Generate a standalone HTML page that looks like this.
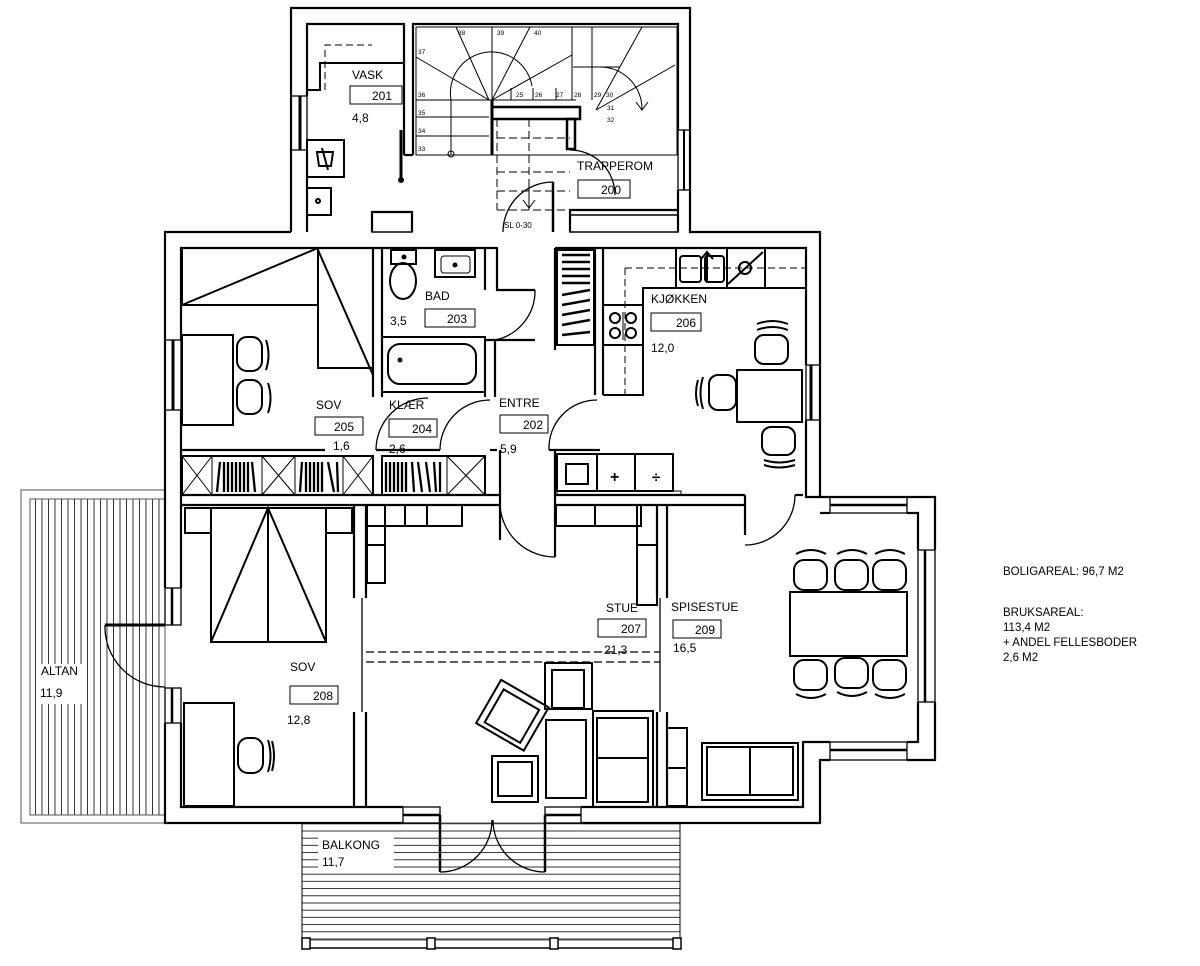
<!DOCTYPE html>
<html><head><meta charset="utf-8"><style>
html,body{margin:0;padding:0;background:#fff;}
svg{display:block;}
text{font-family:"Liberation Sans",sans-serif;fill:#000;}
</style></head><body>
<svg width="1200" height="966" viewBox="0 0 1200 966" xmlns="http://www.w3.org/2000/svg">
<defs>
<pattern id="vl" width="6.5" height="10" patternUnits="userSpaceOnUse"><line x1="3" y1="0" x2="3" y2="10" stroke="#000" stroke-width="0.8"/></pattern>
<pattern id="hl" width="10" height="7.2" patternUnits="userSpaceOnUse"><line x1="0" y1="3" x2="10" y2="3" stroke="#000" stroke-width="0.8"/></pattern>
</defs>
<rect width="1200" height="966" fill="#fff"/>

<!-- ALTAN -->
<rect x="21" y="490" width="144" height="333" fill="none" stroke="#555" stroke-width="1"/>
<rect x="30" y="499" width="135" height="316" fill="url(#vl)" stroke="#555" stroke-width="1"/>
<rect x="36" y="664" width="50" height="40" fill="#fff"/>
<text x="41" y="675" font-size="12">ALTAN</text>
<text x="40" y="697" font-size="12">11,9</text>

<!-- BALKONG -->
<rect x="302" y="823" width="378" height="117" fill="url(#hl)" stroke="#555" stroke-width="1"/>
<line x1="302" y1="948" x2="680" y2="948" stroke="#000" stroke-width="1.5"/>
<line x1="302" y1="823" x2="302" y2="948" stroke="#000"/><line x1="680" y1="823" x2="680" y2="948" stroke="#000"/>
<g fill="#fff" stroke="#000" stroke-width="1.5">
<rect x="302" y="938" width="8" height="11"/><rect x="427" y="938" width="8" height="11"/><rect x="550" y="938" width="8" height="11"/><rect x="673" y="938" width="8" height="11"/>
</g>
<rect x="318" y="836" width="76" height="34" fill="#fff"/>
<text x="322" y="849" font-size="12">BALKONG</text>
<text x="322" y="866" font-size="12">11,7</text>

<g fill="none" stroke="#000" stroke-width="2.2">
<polyline points="291,232 291,8 690,8 690,232 820,232 820,497 907,497"/>
<polyline points="907,497 935,497 935,550"/>
<polyline points="935,702 935,760 907,760"/>
<polyline points="830,760 820,760 820,823 581,823"/>
<polyline points="403,823 165,823 165,723"/>
<polyline points="165,588 165,232 291,232"/>
<polyline points="307,232 307,150"/>
<polyline points="307,96 307,24 404,24 404,155"/>
<polyline points="413,155 413,24 678,24 678,130"/>
<polyline points="678,190 678,232"/>
<polyline points="181,340 181,248 497,248 497,290 535,290"/>
<polyline points="555,248 806,248 806,365"/>
<polyline points="806,420 806,497 820,497"/>
<polyline points="820,513 830,513"/><polyline points="907,513 918,513 918,550"/>
<polyline points="918,702 918,742 907,742"/><polyline points="830,742 803,742 803,807 581,807"/>
<polyline points="403,807 181,807 181,723"/>
<polyline points="181,588 181,410"/>
<line x1="373" y1="248" x2="373" y2="397"/><line x1="382" y1="248" x2="382" y2="397"/>
<line x1="485" y1="248" x2="485" y2="290"/><line x1="485" y1="340" x2="485" y2="397"/>
<line x1="495" y1="340" x2="495" y2="397"/>
<line x1="485" y1="340" x2="535" y2="340"/>
<line x1="555" y1="248" x2="555" y2="350"/>
<line x1="595" y1="248" x2="595" y2="395"/><line x1="603" y1="248" x2="603" y2="395"/>
<line x1="181" y1="450" x2="325" y2="450"/>
<line x1="376" y1="450" x2="440" y2="450"/>
<line x1="490" y1="450" x2="497" y2="450"/>
<line x1="549" y1="450" x2="600" y2="450"/>
<line x1="181" y1="495" x2="500" y2="495"/><line x1="181" y1="505" x2="500" y2="505"/>
<line x1="500" y1="450" x2="500" y2="505"/>
<line x1="555" y1="450" x2="555" y2="505"/>
<line x1="555" y1="495" x2="665" y2="495"/><line x1="555" y1="505" x2="665" y2="505"/>
<line x1="665" y1="495" x2="745" y2="495"/><line x1="665" y1="505" x2="745" y2="505"/>
<line x1="745" y1="495" x2="745" y2="535"/>
<line x1="795" y1="495" x2="803" y2="495"/>
<line x1="354" y1="505" x2="354" y2="598"/><line x1="366" y1="505" x2="366" y2="598"/>
<line x1="354" y1="712" x2="354" y2="807"/><line x1="366" y1="712" x2="366" y2="807"/>
<line x1="657" y1="505" x2="657" y2="598"/><line x1="667" y1="505" x2="667" y2="598"/>
<line x1="657" y1="712" x2="657" y2="807"/><line x1="667" y1="712" x2="667" y2="807"/>
<line x1="555" y1="505" x2="555" y2="557"/><line x1="500" y1="505" x2="500" y2="540"/>
<polyline points="372,232 372,212 412,212 412,232"/>
<polyline points="570,232 570,210 678,210"/>
<line x1="413" y1="155" x2="404" y2="155"/>
</g>
<g stroke="#000" stroke-width="1.3" fill="none">
<line x1="362" y1="598" x2="362" y2="712"/>
<line x1="660" y1="598" x2="660" y2="712"/>
<line x1="366" y1="652" x2="660" y2="652" stroke-dasharray="8,4"/>
<line x1="366" y1="662" x2="660" y2="662" stroke-dasharray="8,4"/>
<rect x="165" y="340" width="16" height="70"/><line x1="173" y1="340" x2="173" y2="410" stroke-width="3"/>
<rect x="165" y="588" width="16" height="37"/><rect x="165" y="688" width="16" height="35"/>
<line x1="172" y1="588" x2="172" y2="625" stroke-width="2.5"/><line x1="172" y1="688" x2="172" y2="723" stroke-width="2.5"/>
<line x1="105" y1="625" x2="165" y2="625" stroke-width="3"/>
<path d="M105,625 A60,60 0 0 0 165,687"/>
<rect x="291" y="96" width="16" height="54"/><line x1="300" y1="96" x2="300" y2="150" stroke-width="3"/>
<rect x="678" y="130" width="12" height="60"/><line x1="684" y1="130" x2="684" y2="190" stroke-width="2"/>
<rect x="806" y="365" width="14" height="55"/><line x1="811" y1="365" x2="811" y2="420" stroke-width="3"/>
<rect x="830" y="497" width="77" height="16"/><line x1="830" y1="505" x2="907" y2="505" stroke-width="2.5"/>
<rect x="918" y="550" width="17" height="152"/><line x1="925" y1="550" x2="925" y2="702" stroke-width="2.5"/>
<rect x="830" y="742" width="77" height="18"/><line x1="830" y1="750" x2="907" y2="750" stroke-width="2.5"/>
<rect x="403" y="807" width="37" height="16"/><rect x="545" y="807" width="36" height="16"/>
<line x1="403" y1="815" x2="440" y2="815" stroke-width="2.5"/><line x1="545" y1="815" x2="581" y2="815" stroke-width="2.5"/>
<line x1="440" y1="815" x2="440" y2="872" stroke-width="2.5"/><line x1="545" y1="815" x2="545" y2="872" stroke-width="2.5"/>
<path d="M440,872 A52,52 0 0 0 492,820"/><path d="M545,872 A52,52 0 0 1 493,820"/>
<path d="M500,505 A55,55 0 0 0 555,557"/>
<path d="M795,495 A50,50 0 0 1 745,545"/>
<path d="M535,290 A50,50 0 0 1 495,340"/>
<path d="M376,450 A52,52 0 0 1 428,398"/>
<path d="M440,450 A50,50 0 0 1 490,400"/>
<path d="M549,450 A48,48 0 0 1 597,400"/>
<path d="M503,232 A50,50 0 0 1 553,182"/>
<line x1="553" y1="182" x2="553" y2="232" stroke-width="2.5"/>
<path d="M570,150 A45,45 0 0 1 615,195"/>
</g>
<g stroke="#000" stroke-width="1" fill="none">
<rect x="416" y="27" width="261" height="128"/>
<line x1="572" y1="27" x2="572" y2="100"/>
<line x1="416" y1="100" x2="489" y2="100"/><line x1="416" y1="117" x2="489" y2="117"/><line x1="416" y1="136" x2="489" y2="136"/>
<line x1="489" y1="100" x2="576" y2="100"/>
<line x1="492" y1="27" x2="492" y2="100"/>
<line x1="456" y1="27" x2="489" y2="100"/><line x1="530" y1="27" x2="492" y2="100"/>
<line x1="416" y1="57" x2="489" y2="100"/><line x1="572" y1="55" x2="492" y2="100"/>
<line x1="642" y1="27" x2="596" y2="110"/><line x1="675" y1="65" x2="596" y2="110"/>
<line x1="592" y1="27" x2="592" y2="100"/>
<line x1="511" y1="88" x2="511" y2="100"/><line x1="533" y1="88" x2="533" y2="100"/><line x1="556" y1="88" x2="556" y2="100"/>
<line x1="573" y1="67" x2="620" y2="67"/>
<path d="M451,155 L451,100 A40,40 0 0 1 532,86"/>
<path d="M598,67 A42,42 0 0 1 642,110"/>
<circle cx="451" cy="154" r="3"/>
<line x1="492" y1="100" x2="492" y2="155" stroke-width="3"/>
<rect x="492" y="107" width="88" height="12" stroke-width="2.5"/>
<rect x="567" y="119" width="8" height="30" stroke-width="2.5"/>
<g stroke-dasharray="8,4"><line x1="497" y1="138" x2="570" y2="138"/><line x1="497" y1="172" x2="570" y2="172"/><line x1="497" y1="191" x2="570" y2="191"/><line x1="497" y1="210" x2="570" y2="210"/><line x1="497" y1="119" x2="497" y2="210"/><line x1="529" y1="119" x2="529" y2="210"/></g>
<polyline points="523,200 529,208 535,200"/><line x1="529" y1="185" x2="529" y2="208"/>
<polyline points="636,102 642,110 648,102"/>
<line x1="401" y1="130" x2="401" y2="180" stroke-width="3"/><circle cx="401" cy="180" r="2.5" fill="#000"/>
</g>
<g font-size="6.5"><text x="458" y="35">38</text><text x="497" y="35">39</text><text x="534" y="35">40</text><text x="418" y="54">37</text><text x="418" y="97">36</text><text x="418" y="115">35</text><text x="418" y="133">34</text><text x="418" y="151">33</text><text x="516" y="97">25</text><text x="535" y="97">26</text><text x="556" y="97">27</text><text x="574" y="97">28</text><text x="594" y="97">29</text><text x="606" y="97">30</text><text x="607" y="110">31</text><text x="607" y="122">32</text></g>
<text x="504" y="228" font-size="8">SL 0-30</text>

<g stroke="#000" stroke-width="2" fill="none">
<polyline points="307,90 320,90 320,63 404,63"/>
<path d="M325,90 L325,45 L372,45" stroke-width="1" stroke-dasharray="7,4"/>
<rect x="307" y="140" width="37" height="37"/>
<path d="M317,152 L333,152 L331,166 L319,166 Z M322,148 L328,170" stroke-width="2"/>
<rect x="307" y="188" width="24" height="27"/><circle cx="318" cy="201" r="2"/>
<rect x="372" y="212" width="40" height="20" stroke-width="1.5"/>
<rect x="570" y="215" width="108" height="17" stroke-width="1.5"/>
</g>
<g stroke="#000" stroke-width="2" fill="none">
<rect x="391" y="250" width="25" height="14"/><ellipse cx="403" cy="281" rx="13" ry="18"/><circle cx="404" cy="257" r="1.5" fill="#000"/>
<rect x="435" y="250" width="40" height="27"/><rect x="441" y="256" width="29" height="17" rx="3" stroke-width="1"/><circle cx="455" cy="265" r="1.5" fill="#000"/>
<rect x="382" y="337" width="103" height="55"/><rect x="388" y="344" width="88" height="40" rx="12"/>
<circle cx="400" cy="360" r="1.5" fill="#000"/>
</g>
<g stroke="#000" fill="none">
<rect x="557" y="250" width="37" height="95" stroke-width="2"/>
<g stroke-width="2.5"><line x1="562" y1="255" x2="590" y2="255"/><line x1="562" y1="262" x2="590" y2="262"/><line x1="562" y1="269" x2="590" y2="269"/><line x1="562" y1="276" x2="590" y2="276"/><line x1="562" y1="283" x2="590" y2="283"/><line x1="562" y1="295" x2="590" y2="290"/><line x1="562" y1="305" x2="590" y2="300"/><line x1="562" y1="315" x2="590" y2="310"/><line x1="562" y1="325" x2="590" y2="320"/><line x1="562" y1="335" x2="590" y2="332"/></g>
</g>
<g stroke="#000" stroke-width="2" fill="none">
<rect x="182" y="248" width="136" height="57"/><line x1="182" y1="305" x2="318" y2="248"/>
<rect x="318" y="248" width="55" height="120"/><line x1="318" y1="250" x2="373" y2="375"/>
<rect x="182" y="335" width="51" height="90"/>
<rect x="237" y="337" width="25" height="34" rx="10"/><rect x="237" y="380" width="25" height="34" rx="10"/>
<path d="M266,340 q5,15 0,30 M268,383 q5,15 0,30"/>
<rect x="182" y="456" width="191" height="39"/><rect x="382" y="456" width="103" height="39"/>
</g>
<g stroke="#000" stroke-width="1" fill="none">
<path d="M182,456 L212,495 M212,456 L182,495 M262,456 L295,495 M295,456 L262,495 M343,456 L373,495 M373,456 L343,495 M447,456 L485,495 M485,456 L447,495"/>
<line x1="212" y1="456" x2="212" y2="495"/><line x1="262" y1="456" x2="262" y2="495"/><line x1="295" y1="456" x2="295" y2="495"/><line x1="343" y1="456" x2="343" y2="495"/><line x1="447" y1="456" x2="447" y2="495"/>
</g>
<g stroke="#000" stroke-width="2.3">
<path d="M217,492 L220,462 M224,462 L224,492 M228,462 L228,492 M232,462 L232,492 M236,462 L236,492 M240,462 L240,492 M244,462 L244,492 M248,462 L248,492 M252,462 L255,492"/>
<path d="M300,492 L302,462 M306,462 L306,492 M310,462 L310,492 M314,462 L314,492 M318,462 L318,492 M322,462 L322,492 M328,462 L334,492 M337,462 L338,492"/>
<path d="M386,462 L386,492 M390,462 L390,492 M394,462 L394,492 M398,462 L398,492 M402,462 L402,492 M406,462 L406,492 M412,462 L414,492 M418,462 L422,492 M426,462 L430,492 M434,462 L436,492 M440,462 L440,492"/>
</g>
<g stroke="#000" stroke-width="2" fill="none">
<polyline points="603,248 806,248 806,288 643,288 643,395 603,395"/>
<line x1="676" y1="248" x2="676" y2="288"/><line x1="727" y1="248" x2="727" y2="288"/><line x1="765" y1="248" x2="765" y2="288"/>
<rect x="680" y="256" width="21" height="26" rx="3"/><rect x="705" y="256" width="19" height="26" rx="3"/>
<path d="M707,282 L707,253 M701,259 L707,252 L713,259"/>
<line x1="728" y1="284" x2="763" y2="252"/><circle cx="745" cy="268" r="6"/>
<line x1="603" y1="305" x2="643" y2="305"/><line x1="603" y1="345" x2="643" y2="345"/>
<circle cx="615" cy="318" r="5"/><circle cx="631" cy="318" r="5"/><circle cx="615" cy="333" r="5"/><circle cx="631" cy="333" r="5"/>
<line x1="623" y1="312" x2="623" y2="340" stroke-width="1"/>
<path d="M625,268 L625,395 M625,268 L806,268" stroke-width="1" stroke-dasharray="7,4"/>
<rect x="737" y="370" width="65" height="52"/>
<rect x="755" y="335" width="33" height="29" rx="9"/><path d="M757,330 q15,-6 31,0 M757,324 q15,-6 31,0"/>
<rect x="709" y="375" width="27" height="35" rx="9"/><path d="M703,377 q-5,16 0,32 M698,380 q-4,13 0,26"/>
<rect x="762" y="427" width="33" height="28" rx="9"/><path d="M764,460 q15,5 31,0 M764,465 q15,5 31,0"/>
<rect x="557" y="454" width="40" height="37"/><rect x="566" y="464" width="22" height="20"/>
<rect x="597" y="454" width="76" height="37"/><line x1="635" y1="454" x2="635" y2="491"/>
<rect x="557" y="491" width="124" height="4" stroke-width="1"/>
</g>
<text x="610" y="482" font-size="16" font-weight="bold">+</text><text x="652" y="482" font-size="15" font-weight="bold">÷</text>
<g stroke="#000" stroke-width="2" fill="none">
<rect x="185" y="508" width="26" height="25"/><rect x="326" y="508" width="26" height="25"/>
<rect x="211" y="508" width="115" height="134"/><line x1="268" y1="508" x2="268" y2="642"/>
<polyline points="211,642 268,508 326,642"/>
<rect x="367" y="505" width="95" height="21"/><line x1="405" y1="505" x2="405" y2="526"/><line x1="427" y1="505" x2="427" y2="526"/>
<rect x="367" y="505" width="18" height="78"/><line x1="367" y1="545" x2="385" y2="545"/>
<rect x="556" y="505" width="85" height="21"/><line x1="595" y1="505" x2="595" y2="526"/>
<rect x="637" y="505" width="20" height="100"/><line x1="637" y1="545" x2="657" y2="545"/>
<rect x="184" y="703" width="50" height="103"/>
<rect x="238" y="738" width="25" height="35" rx="10"/><path d="M268,740 q5,16 0,32 M272,741 q4,15 0,30"/>
</g>
<g stroke="#000" stroke-width="2" fill="none">
<rect x="545" y="663" width="47" height="46"/><rect x="552" y="670" width="32" height="38"/>
<g transform="rotate(30 512 715)"><rect x="485" y="690" width="55" height="50"/><rect x="492" y="697" width="41" height="38"/></g>
<rect x="492" y="756" width="46" height="46"/><rect x="498" y="762" width="34" height="34"/>
<rect x="546" y="720" width="40" height="78"/>
<rect x="593" y="711" width="60" height="96"/><rect x="597" y="718" width="51" height="84"/><line x1="597" y1="758" x2="648" y2="758"/>
<rect x="667" y="728" width="20" height="78"/><line x1="667" y1="768" x2="687" y2="768"/>
<rect x="702" y="743" width="96" height="57"/><rect x="707" y="747" width="86" height="48"/><line x1="750" y1="747" x2="750" y2="795"/>
<rect x="790" y="592" width="117" height="64"/>
<rect x="794" y="560" width="33" height="30" rx="10"/><rect x="835" y="560" width="33" height="30" rx="10"/><rect x="873" y="560" width="33" height="30" rx="10"/>
<path d="M796,554 q15,-8 30,0 M837,554 q15,-8 30,0 M875,554 q15,-8 30,0"/>
<rect x="794" y="660" width="33" height="30" rx="10"/><rect x="835" y="658" width="33" height="30" rx="10"/><rect x="873" y="660" width="33" height="30" rx="10"/>
<path d="M796,694 q15,8 30,0 M837,692 q15,8 30,0 M875,694 q15,8 30,0"/>
</g>

<g font-size="12" fill="#000">
<text x="352" y="79">VASK</text><rect x="350" y="86" width="52" height="18" fill="none" stroke="#000"/><text x="372" y="100">201</text><text x="352" y="122">4,8</text>
<text x="577" y="170">TRAPPEROM</text><rect x="578" y="180" width="52" height="18" fill="none" stroke="#000"/><text x="601" y="194">200</text>
<text x="425" y="300">BAD</text><text x="390" y="325">3,5</text><rect x="425" y="309" width="50" height="18" fill="none" stroke="#000"/><text x="447" y="323">203</text>
<text x="651" y="303">KJØKKEN</text><rect x="651" y="313" width="50" height="18" fill="none" stroke="#000"/><text x="676" y="327">206</text><text x="651" y="352">12,0</text>
<text x="316" y="409">SOV</text><rect x="315" y="417" width="48" height="18" fill="none" stroke="#000"/><text x="334" y="431">205</text><text x="333" y="450">1,6</text>
<text x="389" y="409">KLÆR</text><rect x="389" y="419" width="48" height="18" fill="none" stroke="#000"/><text x="412" y="433">204</text><text x="389" y="453">2,6</text>
<text x="499" y="407">ENTRE</text><rect x="500" y="415" width="48" height="18" fill="none" stroke="#000"/><text x="523" y="429">202</text><text x="500" y="453">5,9</text>
<text x="606" y="612">STUE</text><rect x="598" y="619" width="48" height="18" fill="none" stroke="#000"/><text x="621" y="633">207</text><text x="604" y="654">21,3</text>
<text x="671" y="611">SPISESTUE</text><rect x="673" y="620" width="48" height="18" fill="none" stroke="#000"/><text x="695" y="634">209</text><text x="673" y="652">16,5</text>
<text x="290" y="671">SOV</text><rect x="290" y="686" width="48" height="18" fill="none" stroke="#000"/><text x="313" y="700">208</text><text x="287" y="724">12,8</text>
</g>
<g font-size="11.5" fill="#000">
<text x="1003" y="575">BOLIGAREAL: 96,7 M2</text>
<text x="1003" y="616">BRUKSAREAL:</text>
<text x="1003" y="631">113,4 M2</text>
<text x="1003" y="646">+ ANDEL FELLESBODER</text>
<text x="1003" y="661">2,6 M2</text>
</g>
</svg>
</body></html>
